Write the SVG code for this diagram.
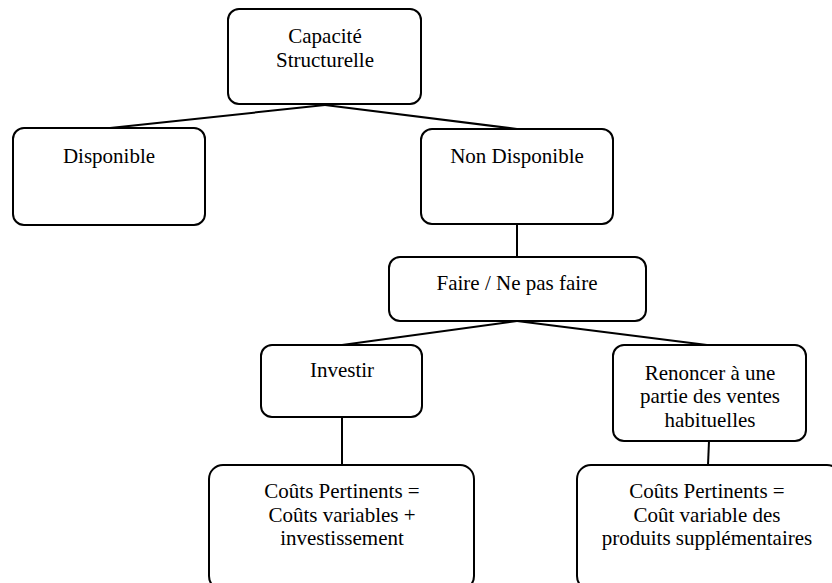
<svg xmlns="http://www.w3.org/2000/svg" width="832" height="583" viewBox="0 0 832 583">
<style>
.box{fill:#fff;stroke:#000;stroke-width:2}
.t{font-family:"Liberation Serif","Times New Roman",serif;font-size:21px;fill:#000;text-anchor:middle}
.c{stroke:#000;stroke-width:2;fill:none}
</style>
<rect width="832" height="583" fill="#fff"/>
<g id="connectors">
<line class="c" x1="325" y1="105" x2="110" y2="128"/>
<line class="c" x1="325" y1="105" x2="517" y2="129"/>
<line class="c" x1="517" y1="224" x2="517" y2="257"/>
<line class="c" x1="517" y1="321" x2="342" y2="345"/>
<line class="c" x1="517" y1="321" x2="707" y2="345"/>
<line class="c" x1="342" y1="417" x2="342" y2="465"/>
<line class="c" x1="709" y1="441" x2="708" y2="465"/>
</g>
<g id="capacite">
<rect class="box" x="228" y="9" width="193" height="95" rx="11"/>
<text class="t" x="325" y="43">Capacité</text>
<text class="t" x="325" y="67">Structurelle</text>
</g>
<g id="disponible">
<rect class="box" x="13" y="128" width="192" height="97" rx="11"/>
<text class="t" x="109" y="163">Disponible</text>
</g>
<g id="non-disponible">
<rect class="box" x="421" y="129" width="192" height="95" rx="11"/>
<text class="t" x="517" y="163">Non Disponible</text>
</g>
<g id="faire">
<rect class="box" x="389" y="257" width="257" height="64" rx="11"/>
<text class="t" x="517" y="290">Faire / Ne pas faire</text>
</g>
<g id="investir">
<rect class="box" x="261" y="345" width="161" height="72" rx="11"/>
<text class="t" x="342" y="377">Investir</text>
</g>
<g id="renoncer">
<rect class="box" x="613" y="345" width="193" height="96" rx="11"/>
<text class="t" x="710" y="380">Renoncer à une</text>
<text class="t" x="710" y="403">partie des ventes</text>
<text class="t" x="710" y="427">habituelles</text>
</g>
<g id="couts-investir">
<rect class="box" x="209" y="465" width="265" height="125" rx="14"/>
<text class="t" x="342" y="498">Coûts Pertinents =</text>
<text class="t" x="342" y="522">Coûts variables +</text>
<text class="t" x="342" y="545">investissement</text>
</g>
<g id="couts-renoncer">
<rect class="box" x="577" y="465" width="264" height="125" rx="14"/>
<text class="t" x="707" y="498">Coûts Pertinents =</text>
<text class="t" x="707" y="522">Coût variable des</text>
<text class="t" x="707" y="545">produits supplémentaires</text>
</g>
</svg>
